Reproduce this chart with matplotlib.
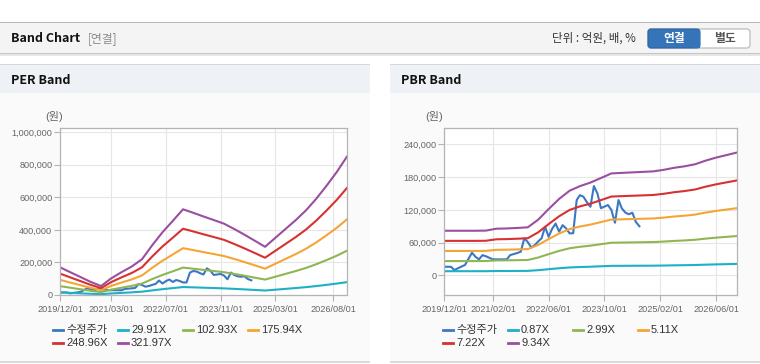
import matplotlib
matplotlib.use('Agg')
import matplotlib.pyplot as plt
import pandas as pd
from matplotlib.patches import Rectangle, FancyBboxPatch
from matplotlib.lines import Line2D
from matplotlib.transforms import IdentityTransform

plt.rcParams['font.family'] = ['Liberation Sans', 'Noto Sans CJK KR', 'DejaVu Sans']

W, H = 760, 364

# ---- data ----
band_dates = pd.date_range('2019-12-01', periods=29, freq='3MS')

# EPS (원), PER band = eps * multiple
eps = [528, 435, 342, 248, 171, 317, 435, 544, 683, 947, 1196, 1413, 1634,
       1568, 1497, 1429, 1360, 1258, 1149, 1034, 919, 1087, 1258, 1429, 1615,
       1832, 2081, 2345, 2640]
per_multiples = [29.91, 102.93, 175.94, 248.96, 321.97]

# BPS (천원), PBR band = bps * multiple
bps = [8.75, 8.75, 8.75, 8.75, 8.78, 9.15, 9.2, 9.3, 9.42, 10.9, 13.0, 15.0,
       16.6, 17.5, 18.2, 19.1, 20.0, 20.1, 20.2, 20.3, 20.4, 20.7, 21.1, 21.4,
       21.8, 22.5, 23.1, 23.6, 24.1]
pbr_multiples = [0.87, 2.99, 5.11, 7.22, 9.34]

price_dates = pd.date_range('2019-12-01', periods=57, freq='MS')
price = [15800, 15800, 15500, 9700, 13000, 16000, 19000, 30000, 41400, 34000,
         29300, 37000, 35000, 32000, 29300, 29300, 29300, 29300, 29300, 37200,
         39000, 41000, 43300, 67800, 61000, 51000, 55500, 62000, 68000, 89000,
         70700, 85000, 95000, 80000, 92000, 86000, 77000, 77000, 138000, 147000,
         144000, 134000, 125700, 163600, 150000, 123000, 126000, 128800, 119600, 96400,
         138000, 122700, 115000, 112000, 114700, 98000, 90000]

per_ticks = ['2019-12-01', '2021-03-01', '2022-07-01', '2023-11-01', '2025-03-01', '2026-08-01']
pbr_ticks = ['2019-12-01', '2021-02-01', '2022-06-01', '2023-10-01', '2025-02-01', '2026-06-01']

colors = ['#3b78c3', '#1db0c6', '#8fb653', '#f5a535', '#d73131', '#9a4f9f']

fig = plt.figure(figsize=(W / 100, H / 100), dpi=100)
fig.patch.set_facecolor('white')
T = IdentityTransform()


def rect(x0, y0, x1, y1, color, z=-5):
    fig.add_artist(Rectangle((x0, H - y1), x1 - x0, y1 - y0, transform=T,
                             facecolor=color, edgecolor='none', zorder=z))


def text(x, y, s, **kw):
    fig.text(x, H - y, s, transform=T, **kw)


# top header bar
rect(0, 22, 760, 53, '#f4f4f4')
rect(0, 22, 760, 23.3, '#b8b8b8')
rect(0, 52.5, 760, 53.8, '#c4c4c4')
rect(0, 53.8, 760, 55.5, '#e6e6e6')
text(11, 38.5, 'Band Chart', fontsize=9, fontweight='bold', family=['Noto Sans CJK KR'],
     va='center', color='#111111')
text(88, 38.5, '[연결]', fontsize=8.5, family=['Noto Sans CJK KR'], va='center', color='#8a8a8a')
text(552, 38.5, '단위 : 억원, 배, %', fontsize=8.3, family=['Noto Sans CJK KR'],
     va='center', color='#333333')
fig.add_artist(FancyBboxPatch((648, H - 48), 102, 19, boxstyle='round,pad=0,rounding_size=3',
                              transform=T, facecolor='white', edgecolor='#b5b5b5', lw=0.8, zorder=-4))
fig.add_artist(FancyBboxPatch((648, H - 48), 52, 19, boxstyle='round,pad=0,rounding_size=3',
                              transform=T, facecolor='#3574b9', edgecolor='#2d64a3', lw=0.8, zorder=-3))
rect(694, 29.5, 700, 47.5, '#3574b9', z=-2)
text(674, 38.5, '연결', fontsize=8.5, fontweight='bold', family=['Noto Sans CJK KR'],
     ha='center', va='center', color='white')
text(725, 38.5, '별도', fontsize=8.5, fontweight='bold', family=['Noto Sans CJK KR'],
     ha='center', va='center', color='#555555')

# panels
for x0, x1, title in [(0, 370, 'PER Band'), (390, 760, 'PBR Band')]:
    rect(x0, 63.5, x1, 65, '#d6d6d6')
    rect(x0, 65, x1, 93, '#eef2f7')
    rect(x0, 93, x1, 361, '#fafafa')
    rect(x0, 361, x1, 363, '#dadada')
    text(x0 + 11, 80.5, title, fontsize=9, fontweight='bold', family=['Noto Sans CJK KR'],
         va='center', color='#111111')


def make_axes(x0, x1, y0, y1):
    return fig.add_axes([x0 / W, (H - y1) / H, (x1 - x0) / W, (y1 - y0) / H])


def setup(ax, ticks, yticks, ylim):
    ax.set_facecolor('white')
    ax.set_xlim(pd.Timestamp('2019-12-01'), pd.Timestamp('2026-12-01'))
    ax.set_ylim(*ylim)
    ax.set_xticks(pd.to_datetime(ticks))
    ax.set_xticklabels([t.replace('-', '/') for t in ticks])
    ax.set_yticks(yticks)
    ax.set_yticklabels([f'{v:,}' for v in yticks])
    ax.grid(color='#e6e6e6', lw=0.8)
    ax.set_axisbelow(True)
    for s in ax.spines.values():
        s.set_color('#b4b4b4')
        s.set_linewidth(0.9)
    ax.tick_params(axis='both', colors='#b4b4b4', labelcolor='#666666', labelsize=6.6,
                   length=4, width=0.8)
    ax.tick_params(axis='x', pad=3)
    ax.tick_params(axis='y', pad=1.5)


def legend(x0, y0, labels):
    for i, (lab, c) in enumerate(zip(labels, colors)):
        x = x0 + 65 * (i % 4)
        y = y0 + 13 * (i // 4)
        fig.add_artist(Line2D([x, x + 10], [H - y, H - y], transform=T, color=c, lw=2))
        text(x + 13, y, lab, fontsize=8, va='center', color='#333333')


# PER band
ax1 = make_axes(60, 347, 128, 295)
ax1.plot(price_dates, price, color=colors[0], lw=1.5)
for m, c in zip(per_multiples, colors[1:]):
    ax1.plot(band_dates, [e * m for e in eps], color=c, lw=1.5)
setup(ax1, per_ticks, list(range(0, 1000001, 200000)), (0, 1025000))
text(45, 117, '(원)', fontsize=8, va='center', color='#666666')
legend(53, 330, ['수정주가'] + [f'{m:.2f}X' for m in per_multiples])

# PBR band
ax2 = make_axes(444, 737, 128, 295)
ax2.plot(price_dates, price, color=colors[0], lw=1.5)
for m, c in zip(pbr_multiples, colors[1:]):
    ax2.plot(band_dates, [b * 1000 * m for b in bps], color=c, lw=1.5)
setup(ax2, pbr_ticks, list(range(0, 240001, 60000)), (-36000, 270000))
text(425, 117, '(원)', fontsize=8, va='center', color='#666666')
legend(443, 330, ['수정주가'] + [f'{m:.2f}X' for m in pbr_multiples])

fig.savefig('out.png', dpi=100)
